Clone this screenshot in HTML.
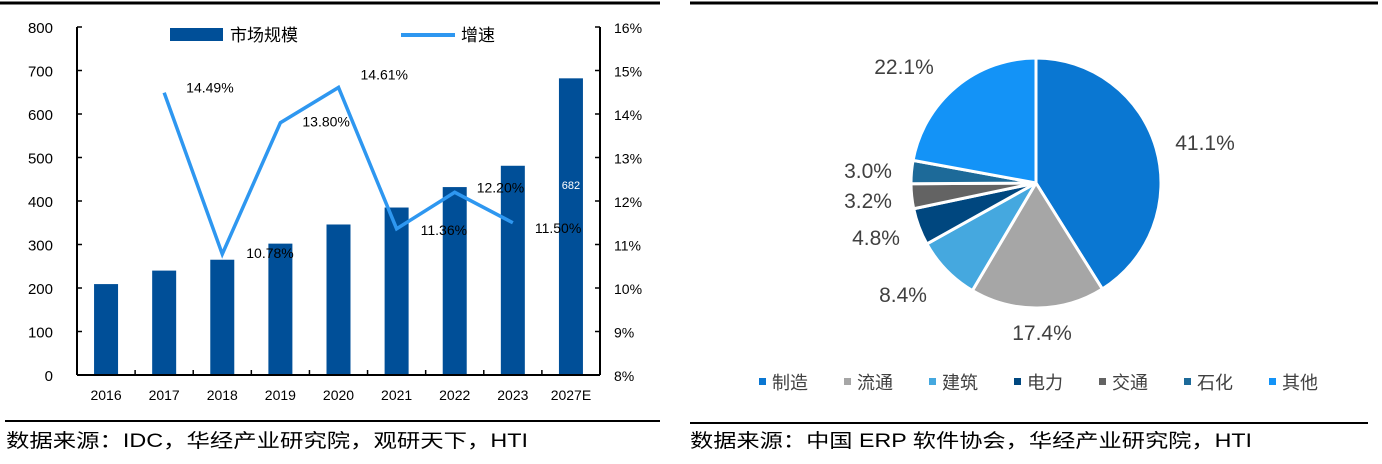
<!DOCTYPE html>
<html><head><meta charset="utf-8"><style>
body{margin:0;width:1382px;height:464px;background:#fff;overflow:hidden;font-family:"Liberation Sans","Noto Sans CJK SC",sans-serif;}
svg{position:absolute;left:0;top:0}
</style></head><body>
<svg id="c" width="1382" height="464" font-family="Liberation Sans, Noto Sans CJK SC, sans-serif"></svg>
<script>
const years=["2016","2017","2018","2019","2020","2021","2022","2023","2027E"];
const marketSize=[209,240,265,302,346,385,432,481,682];
const growthYears=["2017","2018","2019","2020","2021","2022","2023"];
const growth=[14.49,10.78,13.80,14.61,11.36,12.20,11.50];
const growthLabels=["14.49%","10.78%","13.80%","14.61%","11.36%","12.20%","11.50%"];
const leftTicks=[0,100,200,300,400,500,600,700,800];
const rightTicks=[8,9,10,11,12,13,14,15,16];
const sectors=["制造","流通","建筑","电力","交通","石化","其他"];
const shares=[41.1,17.4,8.4,4.8,3.2,3.0,22.1];
const shareLabels=["41.1%","17.4%","8.4%","4.8%","3.2%","3.0%","22.1%"];
const colors=["#0a77d2","#a6a6a6","#45a8df","#00477f","#636363","#1d6a99","#1393f7"];

const svg=document.getElementById('c');const NS='http://www.w3.org/2000/svg';
function mk(t,a,txt){const e=document.createElementNS(NS,t);for(const k in a)e.setAttribute(k,a[k]);if(txt!==undefined)e.textContent=txt;svg.appendChild(e);return e;}
const X0=77,X1=600,Y0=375,Y1=27;
const bw=(X1-X0)/years.length;
const xC=i=>X0+bw*(i+0.5);
const yL=v=>Y0-(v/800)*(Y0-Y1);
const yR=v=>Y0-((v-8)/8)*(Y0-Y1);

let e;
e=mk('line',{x1:0,y1:3,x2:660,y2:3,stroke:'#000','stroke-width':3});

e=mk('line',{x1:5,y1:421,x2:660,y2:421,stroke:'#000','stroke-width':2});

e=mk('line',{x1:690,y1:3,x2:1378,y2:3,stroke:'#000','stroke-width':3});

e=mk('line',{x1:690,y1:423,x2:1368,y2:423,stroke:'#000','stroke-width':2});


years.forEach((y,i)=>{const v=marketSize[i];
 e=mk('rect',{x:xC(i)-12,y:yL(v),width:24,height:Y0-yL(v),fill:'#004f98'});
 
 e=mk('text',{x:xC(i),y:400,'font-size':14,'text-anchor':'middle',fill:'#000'},y);
 
});
e=mk('text',{x:xC(8),y:189,'font-size':11,'text-anchor':'middle',fill:'#fff'},String(marketSize[8]));

e=mk('line',{x1:X0,y1:Y1,x2:X0,y2:Y0,stroke:'#000','stroke-width':2});

e=mk('line',{x1:X1,y1:Y1,x2:X1,y2:Y0,stroke:'#000','stroke-width':2});

e=mk('line',{x1:X0,y1:Y0,x2:X1,y2:Y0,stroke:'#000','stroke-width':2});

for(let i=1;i<years.length;i++){e=mk('line',{x1:X0+bw*i,y1:Y0,x2:X0+bw*i,y2:Y0-5,stroke:'#000','stroke-width':1.5});
 }
leftTicks.forEach(t=>{e=mk('line',{x1:X0,y1:yL(t),x2:X0+5,y2:yL(t),stroke:'#000','stroke-width':1.5});
 
 e=mk('text',{x:53,y:yL(t)+6,'font-size':15,'text-anchor':'end',fill:'#000'},String(t));
 });
rightTicks.forEach(t=>{e=mk('line',{x1:X1,y1:yR(t),x2:X1-5,y2:yR(t),stroke:'#000','stroke-width':1.5});
 
 e=mk('text',{x:614,y:yR(t)+6,'font-size':14,fill:'#000'},t+'%');
 });
const pts=growthYears.map((g,i)=>[xC(years.indexOf(g)),yR(growth[i])]);
e=mk('polyline',{points:pts.map(p=>p.join(',')).join(' '),fill:'none',stroke:'#2e97f0','stroke-width':3.5,'stroke-linejoin':'miter'});

const offs=[[22,0],[24,4],[22,4],[22,-8],[24,6],[22,0],[22,10]];
growthLabels.forEach((l,i)=>{e=mk('text',{x:pts[i][0]+offs[i][0],y:pts[i][1]+offs[i][1],'font-size':14,fill:'#000'},l);
 });
e=mk('rect',{x:170,y:28,width:53,height:13,fill:'#004f98'});
e=mk('text',{x:230,y:41,'font-size':17},'市场规模');
e=mk('line',{x1:401,y1:35,x2:455,y2:35,stroke:'#2e97f0','stroke-width':4});
e=mk('text',{x:461,y:41,'font-size':17},'增速');
e=mk('text',{x:6,y:447,'font-size':19,textLength:522,lengthAdjust:'spacingAndGlyphs'},'数据来源：IDC，华经产业研究院，观研天下，HTI');

const cx=1036,cy=183,r=125;let a=0;const tot=shares.reduce((s,v)=>s+v,0);
const lp=[[1205,150],[1042,340],[903,302],[876,245],[868,208],[868,178],[904,74]];
shares.forEach((v,i)=>{const a0=a,a1=a+v/tot*2*Math.PI;a=a1;
 const p=t=>[cx+r*Math.sin(t),cy-r*Math.cos(t)];const s=p(a0),f=p(a1);
 e=mk('path',{d:`M${cx},${cy}L${s[0]},${s[1]}A${r},${r} 0 ${a1-a0>Math.PI?1:0} 1 ${f[0]},${f[1]}Z`,fill:colors[i],stroke:'#fff','stroke-width':3,'stroke-linejoin':'round'});
 
 e=mk('text',{x:lp[i][0],y:lp[i][1],'font-size':21,'text-anchor':'middle',fill:'#404040'},shareLabels[i]);
 
});
let lx=759;
sectors.forEach((s,i)=>{e=mk('rect',{x:lx,y:378,width:7,height:7,fill:colors[i]});
 
 e=mk('text',{x:lx+13,y:389,'font-size':18,fill:'#404040'},s);
 lx+=85;});
e=mk('text',{x:690,y:447,'font-size':19,textLength:562,lengthAdjust:'spacingAndGlyphs'},'数据来源：中国 ERP 软件协会，华经产业研究院，HTI');
</script>
</body></html>
